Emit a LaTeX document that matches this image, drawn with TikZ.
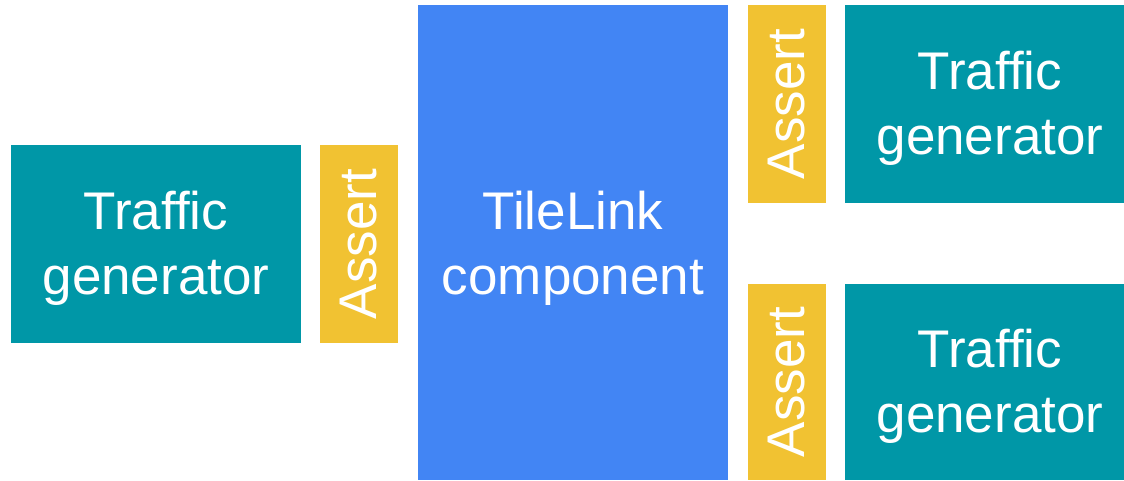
\documentclass[tikz,border=0pt]{standalone}
\usepackage{fontspec}
\setmainfont[Ligatures=NoCommon]{Liberation Sans}
\definecolor{tealbox}{HTML}{0097A7}
\definecolor{yellowbox}{HTML}{F1C232}
\definecolor{bluebox}{HTML}{4285F4}
\tikzset{
  blk/.style={draw=none, inner sep=0pt, outer sep=0pt, text=white, align=center,
    font=\fontsize{53}{65}\selectfont},
  traffic/.style={blk, fill=tealbox},
  assertbox/.style={blk, fill=yellowbox},
  tilelink/.style={blk, fill=bluebox},
}
\begin{document}
\begin{tikzpicture}[x=1pt,y=-1pt]
\useasboundingbox (0,0) rectangle (1124,480);
\fill[white] (0,0) rectangle (1124,480);
% shapes
\path[traffic] (11,145) rectangle (301,343);
\path[assertbox] (320,145) rectangle (398,343);
\path[tilelink] (418,5) rectangle (728,480);
\path[assertbox] (748,5) rectangle (826,203);
\path[traffic] (845,5) rectangle (1124,203);
\path[assertbox] (748,284) rectangle (826,480);
\path[traffic] (845,284) rectangle (1124,480);
% labels
\node[blk] (tg1) at (156,248) {Traffic\\generator};
\node[blk, rotate=90] (as1) at (359,244) {Assert};
\node[blk] (tl) at (573,248) {TileLink\\component};
\node[blk, rotate=90] (as2) at (787,104) {Assert};
\node[blk] (tg2) at (990,108) {Traffic\\generator};
\node[blk, rotate=90] (as3) at (787,382) {Assert};
\node[blk] (tg3) at (990,386) {Traffic\\generator};
\end{tikzpicture}
\end{document}
